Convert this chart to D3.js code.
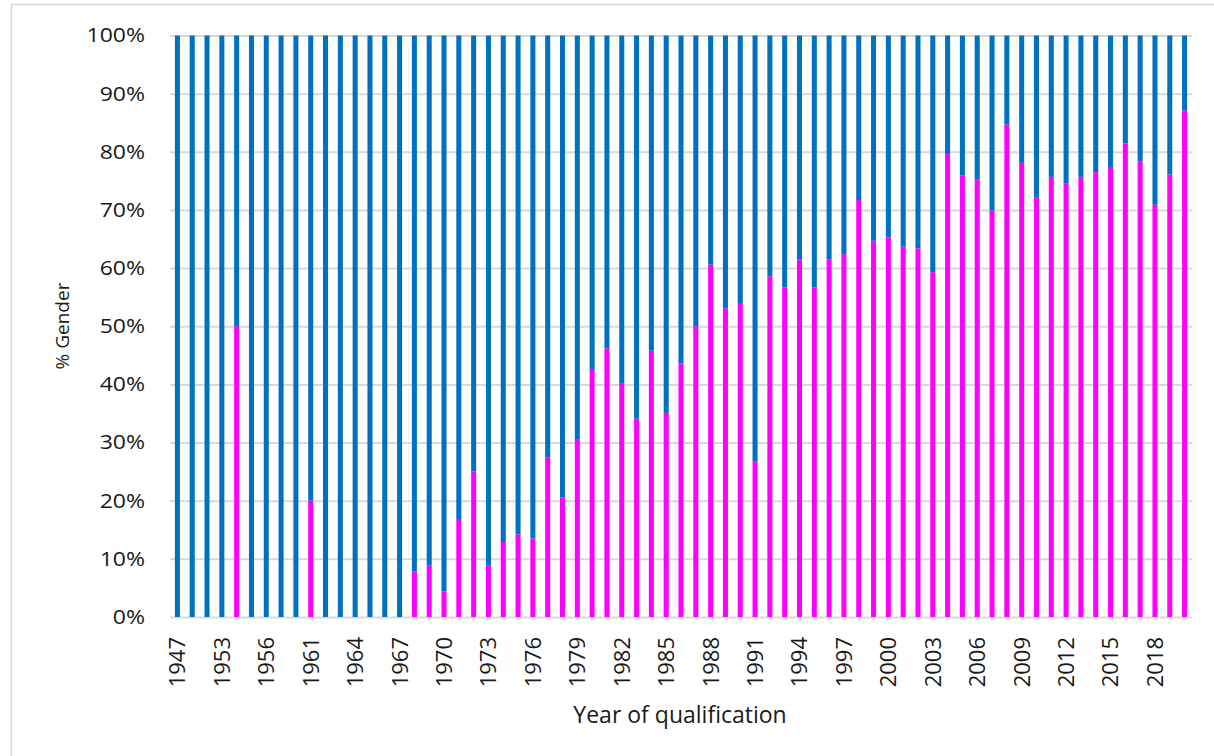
<!DOCTYPE html>
<html>
<head>
<meta charset="utf-8">
<title>% Gender by year of qualification</title>
<style>
  body { margin: 0; background: #fff; }
  svg text { font-family: "Open Sans", "Noto Sans", sans-serif; fill: #1a1a1a; }
</style>
</head>
<body>
<div id="chart"></div>
<script src="https://cdn.jsdelivr.net/npm/d3@7"></script>
<script>
// categories (some early years have no entries, so they are not contiguous)
const years = ["1947","1949","1951","1953","1954","1955","1956","1957","1959","1961",
  "1962","1963","1964","1965","1966","1967","1968","1969","1970","1971",
  "1972","1973","1974","1975","1976","1977","1978","1979","1980","1981",
  "1982","1983","1984","1985","1986","1987","1988","1989","1990","1991",
  "1992","1993","1994","1995","1996","1997","1998","1999","2000","2001",
  "2002","2003","2004","2005","2006","2007","2008","2009","2010","2011",
  "2012","2013","2014","2015","2016","2017","2018","2019","2020"];

// % female per year (pink)
const femalePct = [0, 0, 0, 0, 50, 0, 0, 0, 0, 20,
  0, 0, 0, 0, 0, 0, 7.8, 8.9, 4.4, 16.7,
  25.0, 8.9, 12.9, 14.2, 13.5, 27.4, 20.6, 30.6, 42.5, 46.2,
  40.1, 34.1, 45.8, 35.1, 43.6, 50.0, 60.6, 53.1, 54.0, 26.8,
  58.6, 56.7, 61.5, 56.7, 61.5, 62.4, 71.7, 64.7, 65.3, 63.7,
  63.4, 59.3, 79.6, 75.9, 75.2, 69.9, 84.7, 78.1, 72.1, 75.7,
  74.6, 75.7, 76.5, 77.4, 81.4, 78.3, 70.9, 76.1, 87.1];

const yTicks = [0, 0.1, 0.2, 0.3, 0.4, 0.5, 0.6, 0.7, 0.8, 0.9, 1];

const W = 1214, H = 756;
const plot = { left: 170, right: 1192, top: 35.5, bottom: 617 };

const svg = d3.select("#chart").append("svg")
  .attr("width", W)
  .attr("height", H);

// outer frame of the chart area
svg.append("rect")
  .attr("x", 11.5).attr("y", 4.5)
  .attr("width", W + 20).attr("height", H + 20)
  .attr("fill", "none")
  .attr("stroke", "#d9d9d9")
  .attr("stroke-width", 1.5);

const table = years.map((y, i) => ({
  year: y,
  female: femalePct[i] / 100,
  male: (100 - femalePct[i]) / 100
}));

const x = d3.scaleBand()
  .domain(years)
  .range([plot.left, plot.right])
  .paddingInner(0.66)
  .paddingOuter(0.33);

const y = d3.scaleLinear()
  .domain([0, 1])
  .range([plot.bottom, plot.top]);

// y axis with gridlines
const yAxis = svg.append("g")
  .attr("transform", `translate(${plot.left},0)`)
  .call(d3.axisLeft(y)
    .tickValues(yTicks)
    .tickFormat(d3.format(".0%"))
    .tickSize(-(plot.right - plot.left))
    .tickPadding(0));
yAxis.select(".domain").remove();
yAxis.selectAll("line").attr("stroke", "#d9d9d9").attr("stroke-width", 2);
yAxis.selectAll("text")
  .attr("x", -25 / 1.15)
  .attr("transform", "scale(1.15,1)")
  .style("font-size", "20px")
  .attr("fill", "#1a1a1a");

// stacked bars
const stack = d3.stack().keys(["female", "male"]);
const series = stack(table);
const colors = { female: "#ff00ff", male: "#0070c0" };

svg.append("g").selectAll("g")
  .data(series)
  .join("g")
  .attr("fill", d => colors[d.key])
  .selectAll("rect")
  .data(d => d)
  .join("rect")
  .attr("x", d => x(d.data.year))
  .attr("y", d => y(d[1]))
  .attr("height", d => y(d[0]) - y(d[1]))
  .attr("width", x.bandwidth());

// x axis, every third category labelled
const xAxis = svg.append("g")
  .attr("transform", `translate(0,${plot.bottom})`)
  .call(d3.axisBottom(x)
    .tickValues(years.filter((d, i) => i % 3 === 0))
    .tickSize(0));
xAxis.select(".domain").remove();
xAxis.selectAll("text")
  .attr("transform", "rotate(-90)")
  .attr("text-anchor", "end")
  .attr("x", -20)
  .attr("y", 0)
  .attr("dy", "0.36em")
  .style("font-size", "22px")
  .attr("fill", "#1a1a1a");

// axis titles
svg.append("text")
  .attr("x", 680)
  .attr("y", 723)
  .attr("text-anchor", "middle")
  .style("font-size", "23px")
  .text("Year of qualification");

svg.append("text")
  .attr("transform", "translate(69,326) rotate(-90)")
  .attr("text-anchor", "middle")
  .style("font-size", "19px")
  .text("% Gender");
</script>
</body>
</html>
